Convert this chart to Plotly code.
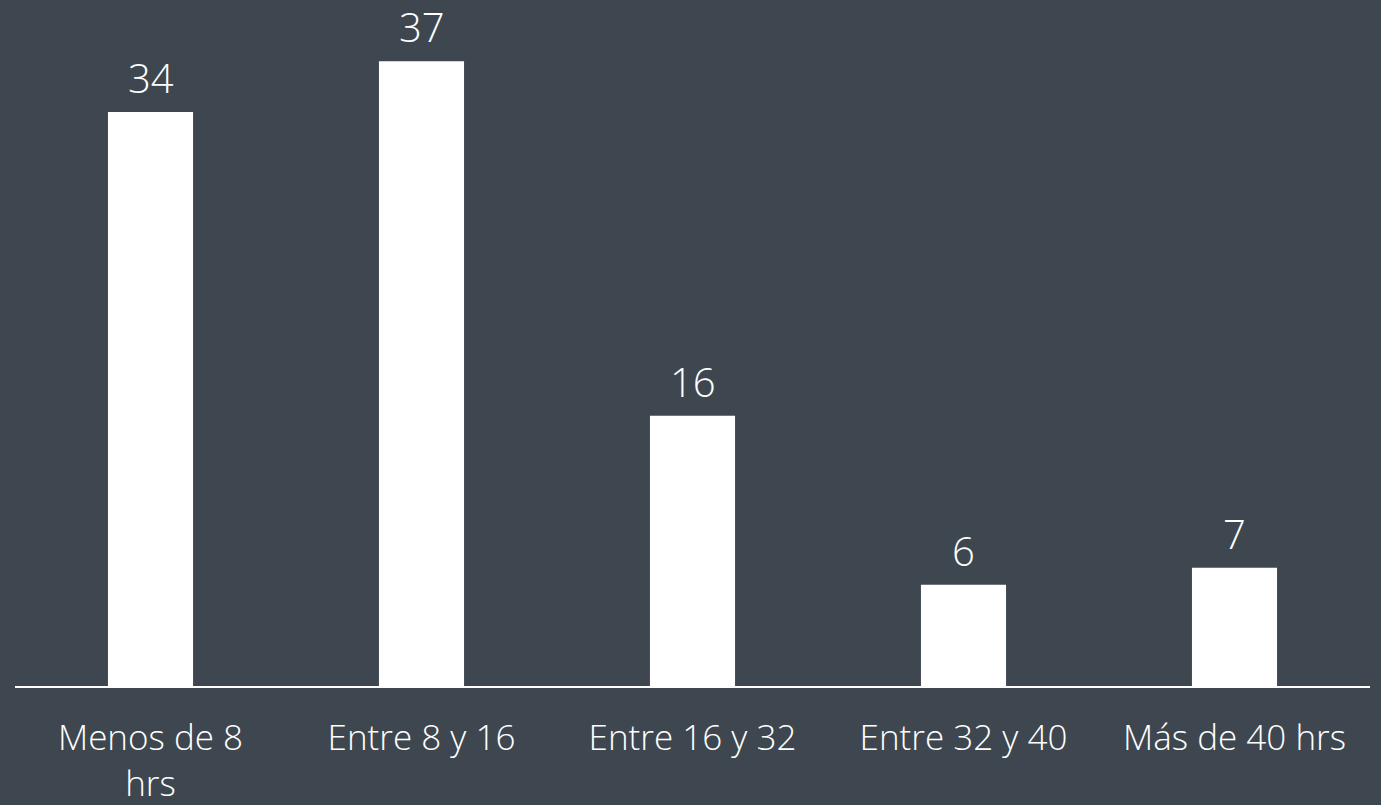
import plotly.graph_objects as go

categorias = ["Menos de 8<br>hrs", "Entre 8 y 16", "Entre 16 y 32", "Entre 32 y 40", "Más de 40 hrs"]
valores = [34, 37, 16, 6, 7]

fondo = "#3e4750"
fuente = "'Open Sans', Lato, sans-serif"

fig = go.Figure(
    go.Bar(
        x=categorias,
        y=valores,
        marker=dict(color="white", line=dict(width=0)),
        width=0.314,
        cliponaxis=False,
    )
)

# value labels sitting above each bar
for cat, val in zip(categorias, valores):
    fig.add_annotation(
        x=cat,
        y=val,
        text=str(val),
        showarrow=False,
        yanchor="bottom",
        yshift=5,
        height=44,
        valign="bottom",
        font=dict(color="white", size=40, family=fuente, weight=300),
    )

fig.update_layout(
    width=1381,
    height=805,
    margin=dict(l=15, r=11, t=14, b=119),
    paper_bgcolor=fondo,
    plot_bgcolor=fondo,
    showlegend=False,
    font=dict(family=fuente, color="white", size=35, weight=300),
    xaxis=dict(
        showline=True,
        linecolor="white",
        linewidth=2,
        showgrid=False,
        automargin=False,
        ticks="outside",
        ticklen=20,
        tickcolor=fondo,
        tickfont=dict(size=35, color="white", family=fuente, weight=300),
    ),
    yaxis=dict(
        range=[0, 39.8],
        visible=False,
        showgrid=False,
        zeroline=False,
    ),
)

fig.write_html("out.html")
